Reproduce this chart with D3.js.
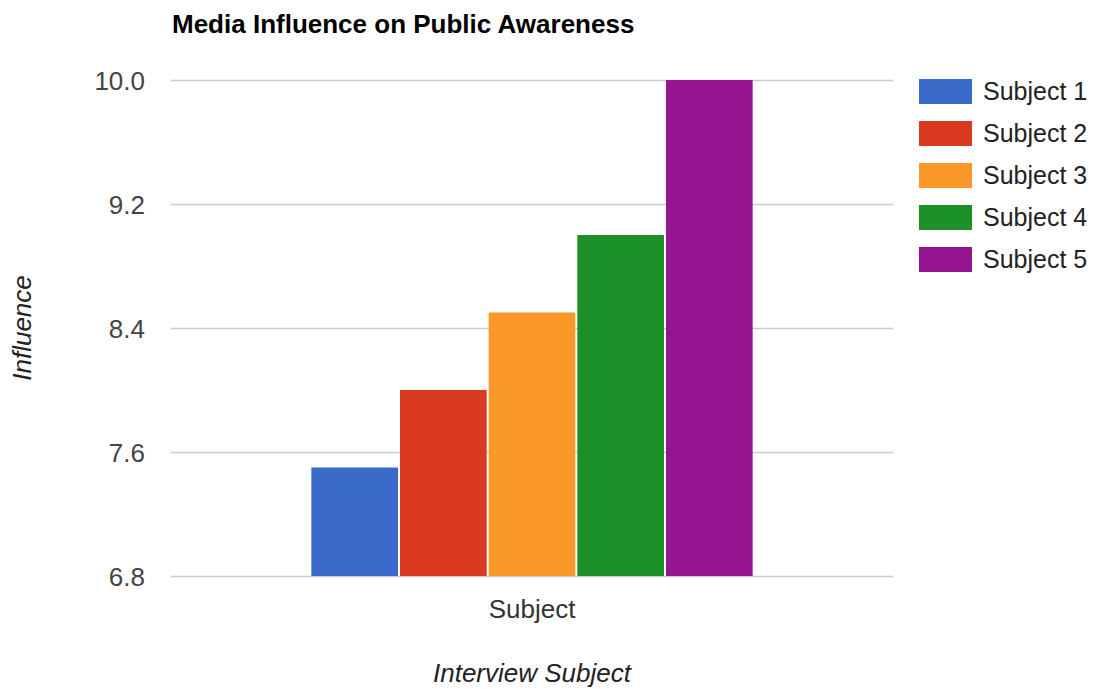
<!DOCTYPE html>
<html>
<head>
<meta charset="utf-8">
<script src="https://cdn.jsdelivr.net/npm/d3@7"></script>
<style>
  html, body { margin: 0; padding: 0; background: #fff; }
  svg { display: block; font-family: Arial, "Liberation Sans", Helvetica, sans-serif; }
</style>
</head>
<body>
<svg id="chart" width="1094" height="689"></svg>
<script>
// Chart data
const categories = ["Subject"];
const seriesNames = ["Subject 1", "Subject 2", "Subject 3", "Subject 4", "Subject 5"];
const seriesValues = [7.5, 8.0, 8.5, 9.0, 10.0];
const seriesColors = ["#3a6bcb", "#da3a1f", "#fa9829", "#1d9128", "#95158f"];
const yTicks = [6.8, 7.6, 8.4, 9.2, 10.0];
const yDomain = [6.8, 10.0];
const titleText = "Media Influence on Public Awareness";
const xTitle = "Interview Subject";
const yTitle = "Influence";

const svg = d3.select("#chart");
const plot = { left: 171, right: 893, top: 80, bottom: 576 };

const y = d3.scaleLinear().domain(yDomain).range([plot.bottom, plot.top]);
const x0 = d3.scaleBand().domain(categories).range([plot.left, plot.right])
  .paddingInner(0).paddingOuter(0.318);
const x1 = d3.scaleBand().domain(seriesNames).range([0, x0.bandwidth()]).paddingInner(0.022);

// Gridlines with tick labels
const yAxis = d3.axisLeft(y).tickValues(yTicks).tickFormat(d3.format(".1f"))
  .tickSize(-(plot.right - plot.left)).tickPadding(26);
const gy = svg.append("g").attr("transform", `translate(${plot.left},0)`).call(yAxis);
gy.select(".domain").remove();
gy.selectAll(".tick line").attr("stroke", "#cccccc").attr("stroke-width", 1.3);
gy.selectAll(".tick text").attr("fill", "#444").style("font-size", "26px")
  .attr("dy", "0.35em");

// Bars
const rows = seriesNames.map((name, i) => ({ cat: categories[0], name, value: seriesValues[i], color: seriesColors[i] }));
svg.append("g").selectAll("rect").data(rows).join("rect")
  .attr("x", d => x0(d.cat) + x1(d.name))
  .attr("y", d => y(d.value))
  .attr("width", x1.bandwidth())
  .attr("height", d => y(yDomain[0]) - y(d.value))
  .attr("fill", d => d.color);

// Category axis label
const xAxis = d3.axisBottom(x0).tickSize(0).tickPadding(24);
const gx = svg.append("g").attr("transform", `translate(0,${plot.bottom})`).call(xAxis);
gx.select(".domain").remove();
gx.selectAll(".tick text").attr("fill", "#333").style("font-size", "26px");

// Title
svg.append("text").attr("x", 172).attr("y", 33)
  .style("font-size", "26px").style("font-weight", "bold").attr("fill", "#000")
  .text(titleText);

// Axis titles
svg.append("text").attr("x", (plot.left + plot.right) / 2).attr("y", 682)
  .attr("text-anchor", "middle").style("font-size", "26px").style("font-style", "italic")
  .attr("fill", "#222").text(xTitle);

svg.append("text").attr("transform", `translate(31,${(plot.top + plot.bottom) / 2}) rotate(-90)`)
  .attr("text-anchor", "middle").style("font-size", "26px").style("font-style", "italic")
  .attr("fill", "#222").text(yTitle);

// Legend
const legend = svg.append("g").attr("transform", "translate(919,79)");
const item = legend.selectAll("g").data(rows).join("g")
  .attr("transform", (d, i) => `translate(0,${i * 42})`);
item.append("rect").attr("width", 53).attr("height", 25).attr("fill", d => d.color);
item.append("text").attr("x", 64).attr("y", 12.5).attr("dy", "0.35em")
  .style("font-size", "25px").attr("fill", "#222").text(d => d.name);
</script>
</body>
</html>
